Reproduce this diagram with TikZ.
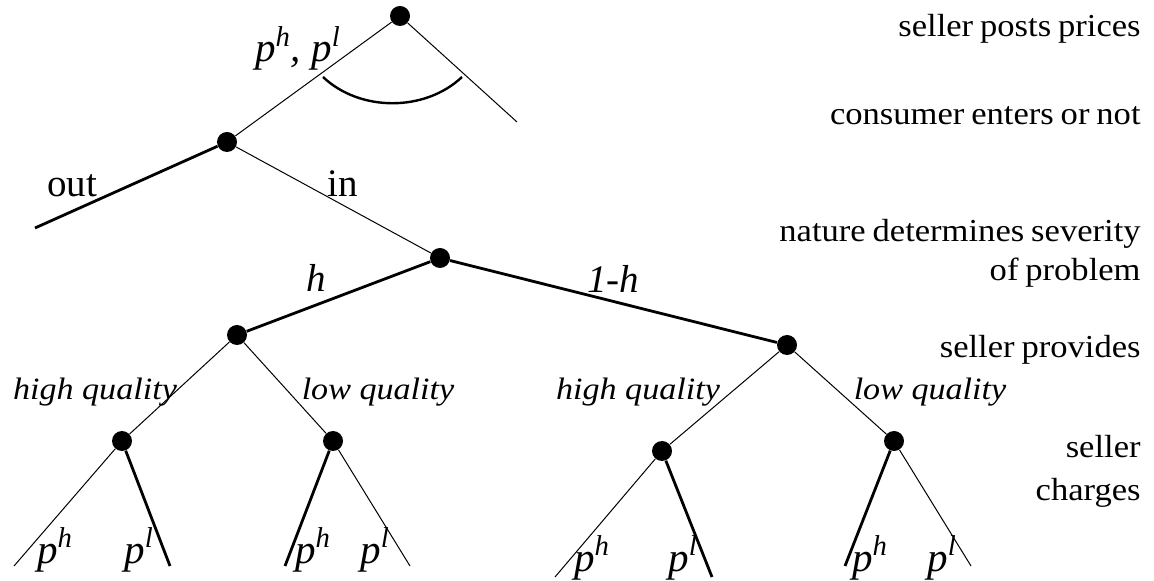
\documentclass[tikz,border=0pt]{standalone}
\usepackage{fontspec}
\setmainfont{Liberation Serif}
\newfontfamily\stagefont{Liberation Serif}[FakeStretch=1.08, WordSpace=0.8]
\newfontfamily\lblfont{Liberation Serif}[FakeStretch=1.1]
\usepackage{tikz}

\tikzset{
    dot/.style={circle, fill=black, inner sep=0pt, minimum size=10pt},
    thinedge/.style={line width=0.5pt},
    thickedge/.style={line width=1.4pt},
    stage/.style={anchor=base east, font=\stagefont\fontsize{16}{18}\selectfont, inner sep=0pt},
    lbl/.style={anchor=base, font=\lblfont\fontsize{15.5}{18}\selectfont\itshape, inner sep=0pt},
    biglbl/.style={anchor=base, font=\fontsize{19.5}{22}\selectfont, inner sep=0pt},
    price/.style={anchor=base, font=\fontsize{20.5}{23}\selectfont\itshape, inner sep=0pt}
}

\begin{document}
\begin{tikzpicture}[x=0.5pt, y=-0.5pt]
    \useasboundingbox (0,0) rectangle (1154,581);

    % Decision nodes
    \node[dot] (root) at (400,16) {};
    \node[dot] (cons) at (227,142) {};
    \node[dot] (nat)  at (440,258) {};
    \node[dot] (sh)   at (237,335) {};
    \node[dot] (sl)   at (787,345) {};
    \node[dot] (hh)   at (122,441) {};
    \node[dot] (hl)   at (333,441) {};
    \node[dot] (lh)   at (662,451) {};
    \node[dot] (ll)   at (894,441) {};

    % Free ends
    \coordinate (rootR) at (517,122);
    \coordinate (out) at (35,228);
    \coordinate (hh1) at (14,566);  \coordinate (hh2) at (170,566);
    \coordinate (hl1) at (285,566); \coordinate (hl2) at (410,566);
    \coordinate (lh1) at (555,577); \coordinate (lh2) at (712,577);
    \coordinate (ll1) at (845,566); \coordinate (ll2) at (971,566);

    % Branches
    \draw[thinedge] (root) -- (cons);
    \draw[thinedge] (root) -- (rootR);
    \draw[thickedge] (cons) -- (out);
    \draw[thinedge] (cons) -- (nat);
    \draw[thickedge] (nat) -- (sh);
    \draw[thickedge] (nat) -- (sl);
    \draw[thinedge] (sh) -- (hh);
    \draw[thinedge] (sh) -- (hl);
    \draw[thinedge] (sl) -- (lh);
    \draw[thinedge] (sl) -- (ll);
    \draw[thinedge] (hh) -- (hh1);
    \draw[thickedge] (hh) -- (hh2);
    \draw[thickedge] (hl) -- (hl1);
    \draw[thinedge] (hl) -- (hl2);
    \draw[thinedge] (lh) -- (lh1);
    \draw[thickedge] (lh) -- (lh2);
    \draw[thickedge] (ll) -- (ll1);
    \draw[thinedge] (ll) -- (ll2);

    % Information set
    \draw[line width=1.2pt] (323,77) .. controls (360,112) and (425,112) .. (462,77);

    % Branch labels
    \node[price] (prices) at (298,62) {p\textsuperscript{h}, p\textsuperscript{l}};
    \node[biglbl] (outlbl) at (72,197) {out};
    \node[biglbl] (inlbl) at (343,197) {in};
    \node[biglbl, font=\fontsize{19.5}{22}\selectfont\itshape] (hlbl) at (316,292) {h};
    \node[biglbl, font=\fontsize{19.5}{22}\selectfont\itshape] (onehlbl) at (613,293) {1-h};
    \node[lbl] (hq1) at (95,400) {high quality};
    \node[lbl] (lq1) at (378,400) {low quality};
    \node[lbl] (hq2) at (638,400) {high quality};
    \node[lbl] (lq2) at (930,400) {low quality};
    \foreach \x/\y/\s [count=\i] in {55/563/h, 139/563/l, 313/563/h, 375/563/l,
                                     592/571/h, 683/571/l, 870/571/h, 942/571/l} {
        \node[price] (leaf\i) at (\x,\y) {p\textsuperscript{\s}};
    }

    % Stages
    \node[stage] (st1) at (1141,37) {seller posts prices};
    \node[stage] (st2) at (1141,125) {consumer enters or not};
    \node[stage] (st3) at (1141,242) {nature determines severity};
    \node[stage] (st3b) at (1141,281) {of problem};
    \node[stage] (st4) at (1141,358) {seller provides};
    \node[stage] (st5) at (1141,458) {seller};
    \node[stage] (st5b) at (1141,501) {charges};
\end{tikzpicture}
\end{document}
